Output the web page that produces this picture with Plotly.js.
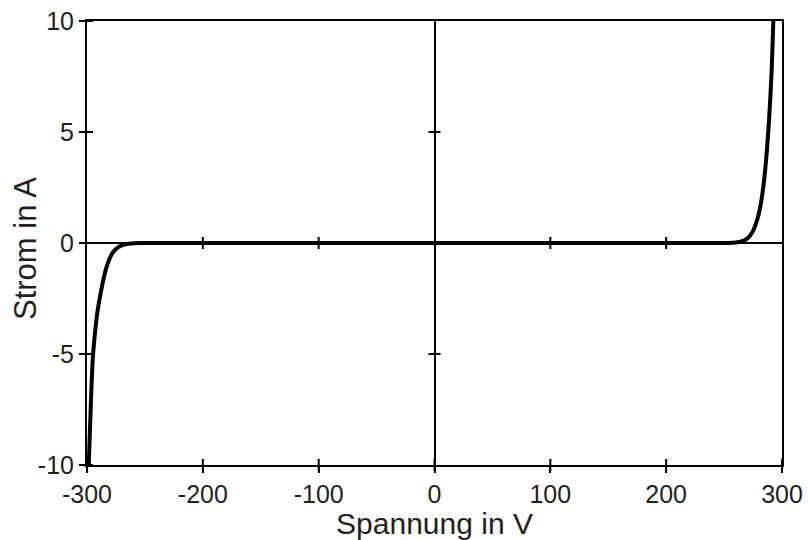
<!DOCTYPE html>
<html>
<head>
<meta charset="utf-8">
<script src="https://cdn.plot.ly/plotly-3.0.1.min.js"></script>
<style>
  html, body { margin: 0; padding: 0; background: #fff; }
  #chart { width: 808px; height: 540px; }
</style>
</head>
<body>
<div id="chart"></div>
<script>
// Current-voltage characteristic (symmetric breakdown curve)
const voltage = [-298.5, -296.5, -295, -293, -291, -288, -285, -282, -278, -273, -268, -262, -255,
                 -200, -100, 0, 100, 200, 250,
                 255, 260, 265, 270, 274, 278, 281.5, 284.5, 287, 289, 291, 292.5];
const current = [-10, -7, -5.2, -4.0, -3.1, -2.2, -1.45, -0.9, -0.45, -0.19, -0.07, -0.02, 0,
                 0, 0, 0, 0, 0, 0,
                 0.005, 0.02, 0.07, 0.2, 0.45, 0.95, 1.7, 2.8, 4.2, 5.7, 7.7, 10];

const xTicks = [-300, -200, -100, 0, 100, 200, 300];
const xTickText = ['-300', '-200', '-100', '0', '100', '200', '300'];
const yTicks = [-10, -5, 0, 5, 10];
const yTickText = ['-10', '-5', '0', '5', '10'];
const xCrossTicks = [-200, -100, 100, 200];
const yCrossTicks = [-5, 5];

const xTitle = 'Spannung in V';
const yTitle = 'Strom in A';

const ink = '#231f20';
const fontFamily = '"Liberation Sans", Arial, sans-serif';
const tickHalf = 6;   // half length of a crossing tick, px
const strokeW = 2;

const trace = {
  x: voltage,
  y: current,
  type: 'scatter',
  mode: 'lines',
  line: { color: '#000', width: 4, shape: 'spline', smoothing: 0.8 },
  hoverinfo: 'skip'
};

// crossing tick marks: anchored at a tick value, sized in pixels
const tickLine = { color: '#000', width: strokeW };
const shapes = [];
xTicks.forEach(v => shapes.push({
  type: 'line', xref: 'x', yref: 'paper', ysizemode: 'pixel', yanchor: 0,
  x0: v, x1: v, y0: -tickHalf, y1: tickHalf, line: tickLine
}));
xCrossTicks.forEach(v => shapes.push({
  type: 'line', xref: 'x', yref: 'y', ysizemode: 'pixel', yanchor: 0,
  x0: v, x1: v, y0: -tickHalf, y1: tickHalf, line: tickLine
}));
yTicks.forEach(v => shapes.push({
  type: 'line', xref: 'paper', yref: 'y', xsizemode: 'pixel', xanchor: 0,
  x0: -tickHalf, x1: tickHalf, y0: v, y1: v, line: tickLine
}));
yCrossTicks.forEach(v => shapes.push({
  type: 'line', xref: 'x', yref: 'y', xsizemode: 'pixel', xanchor: 0,
  x0: -tickHalf, x1: tickHalf, y0: v, y1: v, line: tickLine
}));

const axisCommon = {
  tickmode: 'array',
  ticks: 'outside',
  ticklen: tickHalf,
  tickwidth: strokeW,
  tickcolor: '#000',
  tickfont: { size: 25, color: ink },
  showline: true,
  linecolor: '#000',
  linewidth: strokeW,
  mirror: true,
  showgrid: false,
  zeroline: true,
  zerolinecolor: '#000',
  zerolinewidth: strokeW,
  automargin: false
};

const layout = {
  width: 808,
  height: 540,
  margin: { l: 87, r: 26, t: 21, b: 75 },
  paper_bgcolor: '#fff',
  plot_bgcolor: '#fff',
  showlegend: false,
  font: { family: fontFamily, color: ink, size: 25 },
  xaxis: Object.assign({}, axisCommon, {
    range: [-300, 300],
    tickvals: xTicks,
    ticktext: xTickText,
    title: { text: xTitle, font: { size: 30, color: ink }, standoff: 5 }
  }),
  yaxis: Object.assign({}, axisCommon, {
    range: [-10, 10],
    tickvals: yTicks,
    ticktext: yTickText
  }),
  // vertical axis title, set a little further right than the default placement
  annotations: [{
    text: yTitle,
    xref: 'paper', yref: 'paper',
    x: 0, y: 0.5,
    xshift: -62, yshift: -6,
    xanchor: 'center', yanchor: 'middle',
    textangle: -90,
    showarrow: false,
    font: { size: 31, color: ink }
  }],
  shapes: shapes
};

Plotly.newPlot('chart', [trace], layout, { displayModeBar: false, staticPlot: true });
</script>
</body>
</html>
